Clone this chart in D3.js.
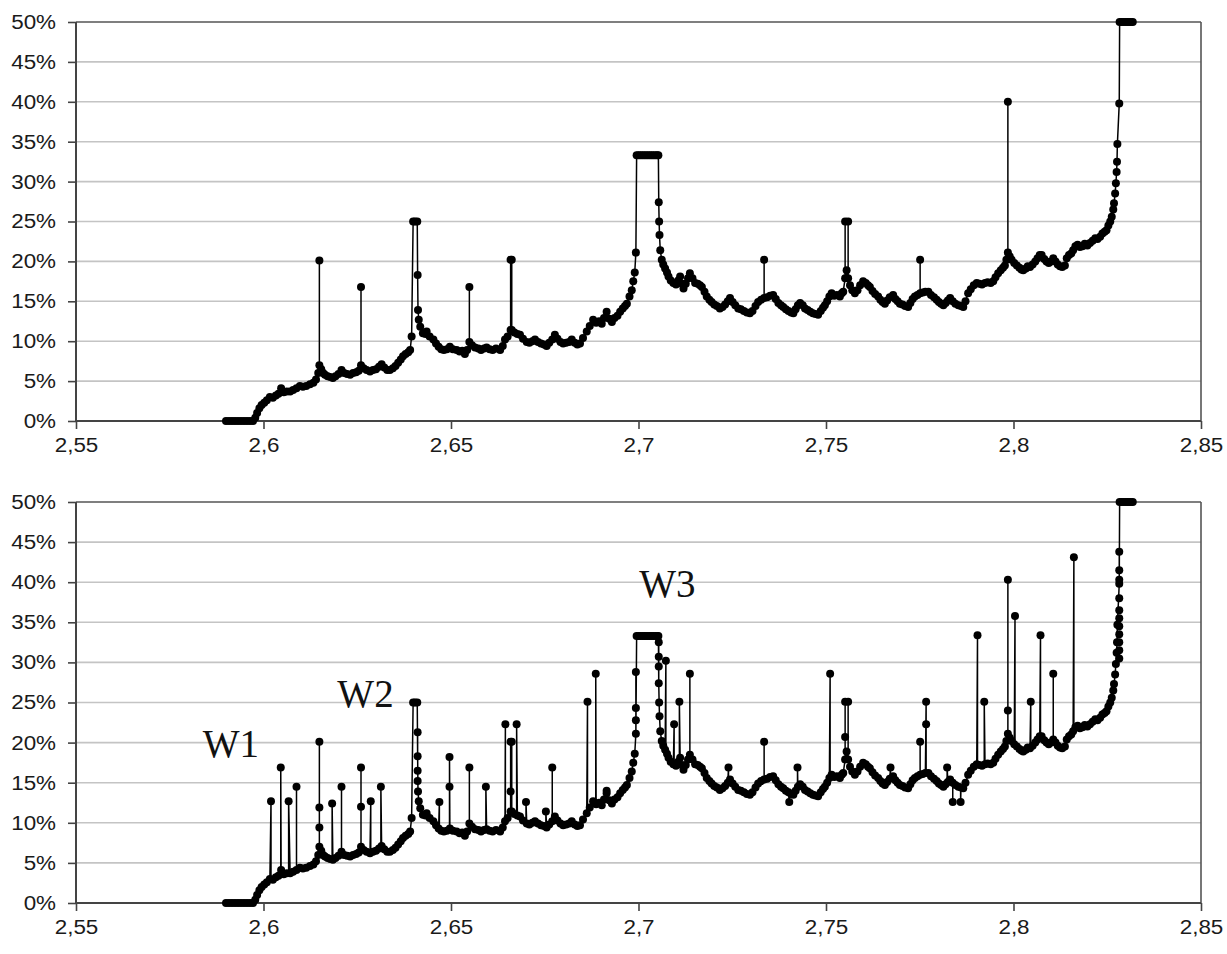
<!DOCTYPE html>
<html><head><meta charset="utf-8">
<script src="https://cdn.jsdelivr.net/npm/d3@7"></script>
<style>body{margin:0;background:#fff}</style>
</head><body><svg id="c" width="1227" height="954"></svg>
<script>
// ---------- axis values ----------
const xTicks=[2.55,2.6,2.65,2.7,2.75,2.8,2.85];
const xTickLabels=["2,55","2,6","2,65","2,7","2,75","2,8","2,85"];
const yTicks=[0,5,10,15,20,25,30,35,40,45,50];
const yTickLabels=["0%","5%","10%","15%","20%","25%","30%","35%","40%","45%","50%"];

// ---------- base curve (x, percent) ----------
const baseA=[[2.5900,0],[2.5908,0],[2.5916,0],[2.5924,0],[2.5932,0],[2.5940,0],[2.5948,0],[2.5956,0],[2.5964,0],[2.5972,0],[2.5978,0.4],[2.5983,1.0],[2.5989,1.6],[2.5995,2.0],[2.6002,2.3],[2.6009,2.6],[2.6017,3.0],[2.6025,2.9],[2.6033,3.2],[2.6040,3.4],[2.6047,4.1],[2.6054,3.6],[2.6062,3.7],[2.6071,3.7],[2.6079,3.9],[2.6088,4.1],[2.6097,4.4],[2.6105,4.3],[2.6114,4.4],[2.6124,4.6],[2.6133,4.8],[2.6140,5.2],[2.6146,6.0],[2.6149,7.0],[2.6154,6.5],[2.6159,6.0],[2.6164,5.8],[2.6171,5.6],[2.6178,5.5],[2.6185,5.4],[2.6192,5.6],[2.6200,5.9],[2.6208,6.4],[2.6215,6.0],[2.6223,5.9],[2.6231,5.8],[2.6239,6.0],[2.6247,6.1],[2.6254,6.3],[2.6260,7.0],[2.6267,6.6],[2.6275,6.4],[2.6284,6.2],[2.6292,6.4],[2.6300,6.5],[2.6308,6.8],[2.6315,7.1],[2.6322,6.7],[2.6330,6.4],[2.6337,6.4],[2.6345,6.6],[2.6352,6.9],[2.6359,7.3],[2.6366,7.7],[2.6372,8.1],[2.6379,8.4],[2.6386,8.6],[2.6391,8.9],[2.6395,10.6],[2.6399,25.0],[2.6404,25.0],[2.6410,25.0]];
const baseB=[[2.6411,18.3],[2.6412,13.9],[2.6414,12.7],[2.6418,11.8],[2.6425,11.0],[2.6432,10.9],[2.6435,11.2],[2.6443,10.6],[2.6453,10.2],[2.6460,9.7],[2.6467,9.3],[2.6474,9.0],[2.6481,8.9],[2.6489,9.0],[2.6497,9.3],[2.6505,9.0],[2.6515,8.9],[2.6523,8.7],[2.6530,8.8],[2.6537,8.4],[2.6543,8.9],[2.6549,9.9],[2.6556,9.5],[2.6564,9.2],[2.6573,9.1],[2.6580,8.9],[2.6588,9.1],[2.6595,9.2],[2.6603,9.0],[2.6611,8.9],[2.6620,9.1],[2.6631,8.9],[2.6638,9.4],[2.6644,10.2],[2.6651,10.6],[2.6659,11.4],[2.6662,11.4],[2.6669,11.1],[2.6677,10.9],[2.6684,10.8],[2.6692,10.3],[2.6702,9.9],[2.6709,9.8],[2.6717,10.0],[2.6724,10.2],[2.6732,9.9],[2.6740,9.7],[2.6748,9.6],[2.6755,9.4],[2.6762,9.8],[2.6770,10.2],[2.6777,10.8],[2.6784,10.3],[2.6792,9.9],[2.6799,9.7],[2.6807,9.8],[2.6815,9.9],[2.6822,10.2],[2.6830,9.8],[2.6837,9.6],[2.6844,9.7],[2.6852,10.4],[2.6862,11.2],[2.6870,11.9],[2.6879,12.7],[2.6887,12.3],[2.6895,12.5],[2.6902,12.2],[2.6908,12.9],[2.6915,13.7],[2.6922,12.8],[2.6929,12.4],[2.6936,12.9],[2.6944,13.2],[2.6951,13.7],[2.6958,14.1],[2.6964,14.4],[2.6969,14.7],[2.6976,15.6],[2.6982,16.4],[2.6986,17.5],[2.6990,18.6],[2.6993,21.1]];
const baseC=[[2.6995,33.3],[2.7000,33.3],[2.7005,33.3],[2.7010,33.3],[2.7015,33.3],[2.7020,33.3],[2.7025,33.3],[2.7030,33.3],[2.7035,33.3],[2.7040,33.3],[2.7045,33.3],[2.7050,33.3],[2.7053,33.3],[2.7054,27.4],[2.7055,25.0],[2.7056,23.3],[2.7058,21.4],[2.7062,20.2],[2.7066,19.6],[2.7071,19.1],[2.7076,18.6],[2.7080,18.1],[2.7086,17.6],[2.7093,17.3],[2.7100,17.1],[2.7106,17.6],[2.7111,18.1],[2.7116,17.2],[2.7120,16.6],[2.7126,17.2],[2.7132,17.9],[2.7137,18.5],[2.7144,17.9],[2.7151,17.3],[2.7158,17.2],[2.7164,17.0],[2.7169,16.8],[2.7176,16.2],[2.7182,15.6],[2.7189,15.2],[2.7195,14.9],[2.7202,14.6],[2.7209,14.4],[2.7217,14.1],[2.7224,14.3],[2.7231,14.6],[2.7238,15.0],[2.7244,15.4],[2.7251,14.9],[2.7258,14.5],[2.7266,14.1],[2.7273,14.0],[2.7281,13.8],[2.7289,13.6],[2.7297,13.5],[2.7304,13.8],[2.7312,14.4],[2.7319,14.9],[2.7327,15.2],[2.7335,15.4],[2.7343,15.5],[2.7351,15.7],[2.7359,15.8],[2.7366,15.3],[2.7373,14.8],[2.7380,14.5],[2.7386,14.3],[2.7393,14.0],[2.7400,13.8],[2.7407,13.6],[2.7413,13.5],[2.7419,14.0],[2.7425,14.5],[2.7431,14.8],[2.7438,14.5],[2.7444,14.1],[2.7451,13.9],[2.7458,13.7],[2.7465,13.5],[2.7472,13.4],[2.7479,13.3],[2.7486,13.8],[2.7492,14.2],[2.7497,14.5]];
const baseD=[[2.7503,15.0],[2.7509,15.6],[2.7515,16.0],[2.7522,15.7],[2.7529,15.8],[2.7537,15.6],[2.7542,16.0],[2.7546,16.2],[2.7551,17.9],[2.7555,18.9],[2.7559,17.9],[2.7564,17.0],[2.7570,16.4],[2.7577,16.0],[2.7584,16.4],[2.7591,17.0],[2.7599,17.5],[2.7606,17.3],[2.7612,17.0],[2.7617,16.8],[2.7624,16.3],[2.7631,15.9],[2.7639,15.6],[2.7645,15.2],[2.7651,14.9],[2.7657,14.7],[2.7663,15.1],[2.7670,15.5],[2.7679,15.8],[2.7685,15.3],[2.7691,15.0],[2.7697,14.7],[2.7704,14.6],[2.7711,14.4],[2.7719,14.3],[2.7725,14.8],[2.7731,15.3],[2.7737,15.6],[2.7744,15.8],[2.7751,16.0],[2.7758,16.1],[2.7765,16.2],[2.7773,16.2],[2.7780,15.8],[2.7788,15.5],[2.7795,15.2],[2.7801,14.9],[2.7807,14.7],[2.7813,14.5],[2.7819,14.8],[2.7825,15.1],[2.7831,15.4],[2.7838,15.0],[2.7845,14.7],[2.7853,14.5],[2.7860,14.4],[2.7866,14.3],[2.7872,15.0],[2.7879,16.0],[2.7886,16.5],[2.7894,17.0],[2.7902,17.3],[2.7909,17.2],[2.7916,17.1],[2.7924,17.3],[2.7931,17.4],[2.7939,17.3],[2.7946,17.5],[2.7952,18.0],[2.7959,18.5],[2.7966,18.9],[2.7972,19.2],[2.7977,19.5],[2.7981,20.2],[2.7985,21.1],[2.7990,20.6],[2.7995,20.2]];
const baseE=[[2.8002,19.8],[2.8009,19.5],[2.8016,19.2],[2.8021,19.0],[2.8026,18.9],[2.8033,19.1],[2.8038,19.4],[2.8044,19.3],[2.8051,19.6],[2.8058,20.0],[2.8064,20.4],[2.8070,20.8],[2.8075,20.8],[2.8082,20.3],[2.8088,20.0],[2.8094,19.8],[2.8100,20.0],[2.8106,20.4],[2.8112,20.0],[2.8118,19.6],[2.8124,19.4],[2.8130,19.3],[2.8137,19.5],[2.8142,20.4],[2.8148,20.8],[2.8154,21.0],[2.8159,21.4],[2.8165,21.9],[2.8171,22.1],[2.8177,21.8],[2.8184,21.9],[2.8190,22.2],[2.8197,22.0],[2.8204,22.3],[2.8211,22.6],[2.8218,22.9],[2.8224,22.8],[2.8231,23.1],[2.8237,23.5],[2.8243,23.7],[2.8248,23.9],[2.8253,24.5],[2.8258,25.0],[2.8262,25.6],[2.8266,26.5],[2.8268,27.3],[2.8271,28.5],[2.8273,29.8],[2.8275,31.2],[2.8276,32.5],[2.8277,34.7],[2.8282,39.8],[2.8283,50],[2.8288,50],[2.8293,50],[2.8298,50],[2.8303,50],[2.8308,50],[2.8313,50],[2.8318,50]];

// ---------- isolated spikes: [x, peak, ...other dots on the same stem] ----------
const spikesTop=[[2.6149,20.1],[2.6260,16.8],[2.6549,16.8],[2.6659,20.2],[2.6662,20.2],[2.7335,20.2],[2.7551,25.0],[2.7559,25.0],[2.7751,20.2],[2.7985,40.0]];
const spikesBottom=[[2.6020,12.7],[2.6046,16.9],[2.6067,12.7],[2.6088,14.5],[2.6149,20.1,11.9,9.4],[2.6183,12.4],[2.6208,14.5],[2.6260,16.9,12.0],[2.6286,12.7],[2.6313,14.5],[2.6411,21.3,16.5,15.2],[2.6469,12.6],[2.6496,18.2,14.5],[2.6549,16.9],[2.6593,14.5],[2.6645,22.3],[2.6659,20.1,13.9],[2.6662,20.1],[2.6675,22.3],[2.6700,12.6],[2.6753,11.4],[2.6770,16.9],[2.6864,25.1],[2.6886,28.6],[2.6915,14.0],[2.6993,28.8,24.3,22.8],[2.7054,32.5,30.7,29.5],[2.7073,30.2],[2.7095,22.3],[2.7109,25.1],[2.7137,28.6],[2.7240,16.9],[2.7335,20.1],[2.7402,12.6],[2.7424,16.9],[2.7511,28.6],[2.7551,25.1,20.7],[2.7559,25.1],[2.7672,16.9],[2.7751,20.1],[2.7767,25.1,22.3],[2.7823,16.9],[2.7838,12.6],[2.7859,12.6],[2.7904,33.4],[2.7922,25.1],[2.7985,40.3,24.0],[2.8004,35.8],[2.8046,25.1],[2.8072,33.4],[2.8106,28.6],[2.8161,43.1],[2.8282,43.8,41.5,40.3,38.0,36.5,35.5,34.5,33.5,32.5,31.5,30.5]];

// ---------- annotations ----------
const waveLabels=["W1","W2","W3"];
const waveX=[2.5913,2.6272,2.7077];
const waveY=[18.2,24.4,38.2];

// ---------- drawing ----------
const svg=d3.select("#c");
const FONT="'Liberation Sans', Arial, sans-serif";
const panels=[{top:22,bottom:421,spikes:spikesTop,labels:false},{top:502,bottom:903,spikes:spikesBottom,labels:true}];
const base=[].concat(baseA,baseB,baseC,baseD,baseE);
const x=d3.scaleLinear().domain([2.55,2.85]).range([76,1201]);

function buildSeries(spikes){
  const assign=new Map();
  spikes.forEach(s=>{
    let bi=0,bd=1e9;
    base.forEach((b,i)=>{const d=Math.abs(b[0]-s[0]); if(d<bd){bd=d;bi=i;}});
    if(!assign.has(bi)) assign.set(bi,[]);
    assign.get(bi).push(s);
  });
  const path=[],dots=[];
  base.forEach((b,i)=>{
    path.push([b[0],b[1]]); dots.push([b[0],b[1]]);
    (assign.get(i)||[]).forEach(s=>{
      const foot=b[1];
      path.push([s[0],s[1]]); path.push([s[0],foot]);
      s.slice(1).forEach(v=>dots.push([s[0],v]));
    });
  });
  return {path,dots};
}

panels.forEach(p=>{
  const y=d3.scaleLinear().domain([0,50]).range([p.bottom,p.top]);
  const g=svg.append("g");
  // gridlines
  g.selectAll("line.grid").data(yTicks.slice(1)).enter().append("line")
    .attr("x1",76).attr("x2",1201).attr("y1",d=>y(d)).attr("y2",d=>y(d))
    .attr("stroke",d=>d===50?"#555":"#c4c4c4").attr("stroke-width",1.6);
  // right frame
  g.append("line").attr("x1",1201).attr("x2",1201).attr("y1",p.top).attr("y2",p.bottom).attr("stroke","#555").attr("stroke-width",1.6);
  // axes
  const ax=d3.axisLeft(y).tickValues(yTicks).tickFormat((d,i)=>yTickLabels[i]).tickSize(8).tickPadding(12);
  const ga=g.append("g").attr("transform","translate(76,0)").call(ax);
  const bx=d3.axisBottom(x).tickValues(xTicks).tickFormat((d,i)=>xTickLabels[i]).tickSize(8).tickPadding(9);
  const gb=g.append("g").attr("transform",`translate(0,${p.bottom})`).call(bx);
  [ga,gb].forEach(a=>{
    a.select(".domain").attr("stroke","#444").attr("stroke-width",2);
    a.selectAll(".tick line").attr("stroke","#444").attr("stroke-width",1.6);
    a.selectAll("text").attr("font-family",FONT).attr("font-size",20).attr("fill","#1a1a1a");
  });
  ga.select(".domain").attr("d",`M-0,${p.bottom}V${p.top}`);
  gb.select(".domain").attr("d",`M76,0H1201`);
  [ga,gb].forEach(a=>a.selectAll("text").each(function(){
    const L=this.getComputedTextLength();
    d3.select(this).attr("textLength",L*1.12).attr("lengthAdjust","spacingAndGlyphs");
  }));
  // series
  const s=buildSeries(p.spikes);
  const line=d3.line().x(d=>x(d[0])).y(d=>y(d[1]));
  g.append("path").attr("d",line(s.path)).attr("fill","none").attr("stroke","#000").attr("stroke-width",1.5).attr("stroke-linejoin","round");
  g.selectAll("circle").data(s.dots).enter().append("circle")
    .attr("cx",d=>x(d[0])).attr("cy",d=>y(d[1])).attr("r",4).attr("fill","#000");
  if(p.labels){
    g.selectAll("text.w").data(waveLabels).enter().append("text").attr("class","w")
      .attr("x",(d,i)=>x(waveX[i])).attr("y",(d,i)=>y(waveY[i]))
      .attr("text-anchor","middle").attr("font-family","'Liberation Serif','Times New Roman',serif")
      .attr("font-size",39).attr("fill","#111").text(d=>d);
  }
});
</script></body></html>
